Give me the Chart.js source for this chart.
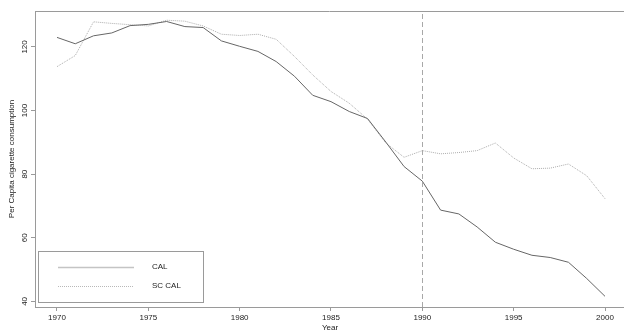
<!DOCTYPE html>
<html lang="en">
<head>
<meta charset="UTF-8">
<script src="https://cdn.jsdelivr.net/npm/chart.js"></script>
<title>Per Capita cigarette consumption</title>
<style>
  html, body { margin: 0; padding: 0; background: #fff; overflow: hidden; }
  canvas { display: block; }
</style>
</head>
<body>
<canvas id="myChart" width="624" height="331"></canvas>
<script>
  const years = [1970, 1971, 1972, 1973, 1974, 1975, 1976, 1977, 1978, 1979,
                 1980, 1981, 1982, 1983, 1984, 1985, 1986, 1987, 1988, 1989,
                 1990, 1991, 1992, 1993, 1994, 1995, 1996, 1997, 1998, 1999, 2000];
  const cal = [123.0, 121.0, 123.5, 124.4, 126.7, 127.1, 128.0, 126.4, 126.1, 121.9,
               120.2, 118.6, 115.4, 110.8, 104.8, 102.8, 99.7, 97.5, 90.1, 82.4,
               77.8, 68.7, 67.5, 63.4, 58.6, 56.4, 54.5, 53.8, 52.3, 47.2, 41.6];
  const scCal = [113.8, 117.3, 127.9, 127.4, 127.0, 126.6, 128.4, 128.1, 126.6, 124.0,
                 123.6, 124.0, 122.4, 117.0, 111.2, 106.0, 102.3, 97.3, 89.8, 85.3,
                 87.4, 86.4, 86.8, 87.4, 89.8, 85.1, 81.7, 81.9, 83.2, 79.5, 72.3];
  const xTicks = [1970, 1975, 1980, 1985, 1990, 1995, 2000];
  const yTicks = [40, 60, 80, 100, 120];
  const treatYear = 1990;

  const FONT = '"Liberation Sans", Arial, sans-serif';
  const AXIS = '#9a9a9a';

  const extras = {
    id: 'extras',
    afterDraw(chart) {
      const c = chart.ctx;
      const a = chart.chartArea;
      const xs = chart.scales.x;
      const ys = chart.scales.y;
      c.save();

      // top border of the box
      c.strokeStyle = AXIS;
      c.lineWidth = 1;
      c.beginPath();
      c.moveTo(a.left, a.top + 0.5);
      c.lineTo(a.right, a.top + 0.5);
      c.stroke();

      // vertical dashed line
      const vx = Math.round(xs.getPixelForValue(treatYear)) + 0.5;
      c.strokeStyle = '#a8a8a8';
      c.setLineDash([5, 3]);
      c.beginPath();
      c.moveTo(vx, a.top + 3);
      c.lineTo(vx, a.bottom);
      c.stroke();
      c.setLineDash([]);

      // rotated y tick labels
      c.fillStyle = '#222';
      c.font = '8px ' + FONT;
      c.textAlign = 'center';
      c.textBaseline = 'middle';
      yTicks.forEach(v => {
        c.save();
        c.translate(25, ys.getPixelForValue(v));
        c.rotate(-Math.PI / 2);
        c.fillText(String(v), 0, 0);
        c.restore();
      });

      // axis titles
      c.save();
      c.translate(12, (a.top + a.bottom) / 2);
      c.rotate(-Math.PI / 2);
      c.fillText('Per Capita cigarette consumption', 0, 0);
      c.restore();
      c.fillText('Year', 330, 328);

      // legend
      c.fillStyle = '#fff';
      c.fillRect(38, 251, 165, 51);
      c.strokeStyle = AXIS;
      c.strokeRect(38.5, 251.5, 165, 51);
      const ds = chart.data.datasets;
      const rows = [267, 286];
      ds.forEach((d, i) => {
        c.strokeStyle = i === 0 ? '#c4c4c4' : '#b8b8b8';
        c.lineWidth = i === 0 ? 1.5 : 1;
        c.setLineDash(i === 0 ? [] : [1, 1]);
        c.beginPath();
        c.moveTo(58, rows[i] + 0.5);
        c.lineTo(134, rows[i] + 0.5);
        c.stroke();
        c.setLineDash([]);
        c.fillStyle = '#222';
        c.textAlign = 'left';
        c.fillText(d.label, 152, rows[i]);
      });
      c.restore();
    }
  };

  const ctx = document.getElementById('myChart');
  new Chart(ctx, {
    type: 'line',
    data: {
      labels: years,
      datasets: [
        {
          label: 'CAL',
          data: years.map((y, i) => ({ x: y, y: cal[i] })),
          borderColor: '#666666',
          borderWidth: 1,
          pointRadius: 0,
          tension: 0
        },
        {
          label: 'SC CAL',
          data: years.map((y, i) => ({ x: y, y: scCal[i] })),
          borderColor: '#acacac',
          borderWidth: 1,
          borderDash: [1, 1],
          pointRadius: 0,
          tension: 0
        }
      ]
    },
    options: {
      responsive: false,
      animation: false,
      devicePixelRatio: 1,
      layout: { padding: { top: 11, left: 0, right: 0, bottom: 0 } },
      plugins: { legend: { display: false }, tooltip: { enabled: false } },
      scales: {
        x: {
          type: 'linear',
          min: 1968.796,
          max: 2001.04,
          afterBuildTicks: s => { s.ticks = xTicks.map(v => ({ value: v })); },
          afterFit: s => { s.height = 24; },
          grid: { drawOnChartArea: false, color: AXIS, tickLength: 4 },
          border: { color: AXIS },
          ticks: {
            color: '#222',
            font: { family: FONT, size: 8 },
            padding: 2,
            maxRotation: 0,
            callback: v => String(v)
          }
        },
        y: {
          min: 38.24,
          max: 131.3,
          afterBuildTicks: s => { s.ticks = yTicks.map(v => ({ value: v })); },
          afterFit: s => { s.width = 35; },
          grid: { drawOnChartArea: false, color: AXIS, tickLength: 4 },
          border: { color: AXIS },
          ticks: { display: false }
        }
      }
    },
    plugins: [extras]
  });
</script>
</body>
</html>
